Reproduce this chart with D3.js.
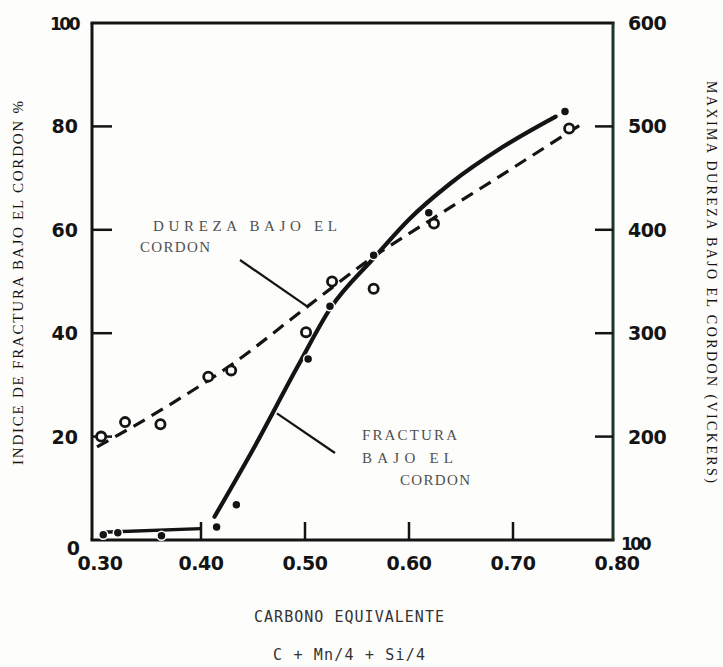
<!DOCTYPE html>
<html>
<head>
<meta charset="utf-8">
<script src="https://cdn.jsdelivr.net/npm/d3@7"></script>
<style>
  html, body { margin: 0; padding: 0; background: #fdfdfb; }
  svg { display: block; }
</style>
</head>
<body>
<svg id="chart" width="723" height="667"></svg>
<script>
// ---- data ----
const xTicks = [0.30, 0.40, 0.50, 0.60, 0.70, 0.80];
const xTickLabels = ["0.30", "0.40", "0.50", "0.60", "0.70", "0.80"];
const leftTicks = [0, 20, 40, 60, 80, 100];
const leftTickLabels = ["0", "20", "40", "60", "80", "100"];
const rightTicks = [100, 200, 300, 400, 500, 600];
const rightTickLabels = ["100", "200", "300", "400", "500", "600"];

// hardness (Vickers) measured points - open circles
const hardnessX = [0.304, 0.327, 0.361, 0.407, 0.429, 0.501, 0.526, 0.566, 0.624, 0.754];
const hardnessV = [200, 214, 212, 258, 264, 301, 350, 343, 406, 498];
// hardness fitted dashed curve
const hardnessFitX = [0.30, 0.367, 0.43, 0.50, 0.566, 0.62, 0.686, 0.764];
const hardnessFitV = [190, 229, 270, 324, 374, 409, 451, 501];

// fracture index (%) measured points - filled dots
const fractureX = [0.306, 0.320, 0.362, 0.415, 0.434, 0.503, 0.524, 0.566, 0.619, 0.750];
const fractureV = [1.0, 1.4, 0.8, 2.5, 6.8, 35, 45.2, 55.1, 63.3, 82.9];
// fracture fitted solid curves
const fractureLowX = [0.305, 0.40];
const fractureLowV = [1.5, 2.2];
const fractureFitX = [0.413, 0.45, 0.493, 0.525, 0.566, 0.60, 0.64, 0.69, 0.741];
const fractureFitV = [4.5, 17.5, 33.6, 45, 54.5, 62, 69, 76, 81.9];

// ---- layout ----
const svg = d3.select("#chart");
const ink = "#141414";
const x = d3.scaleLinear().domain([0.30, 0.80]).range([97, 617]);
const yL = d3.scaleLinear().domain([0, 100]).range([540, 23]);
const yR = d3.scaleLinear().domain([100, 600]).range([540, 23]);

const frameL = x(0.30) - 5, frameR = x(0.80) - 4;

// frame
svg.append("line").attr("x1", frameL).attr("x2", frameL).attr("y1", yL(100)).attr("y2", yL(0))
  .attr("stroke", ink).attr("stroke-width", 3);
svg.append("line").attr("x1", frameL - 1.5).attr("x2", frameR + 1.5).attr("y1", yL(100)).attr("y2", yL(100))
  .attr("stroke", ink).attr("stroke-width", 3);
svg.append("line").attr("x1", frameL - 1.5).attr("x2", frameR + 1.5).attr("y1", yL(0)).attr("y2", yL(0))
  .attr("stroke", ink).attr("stroke-width", 3);
svg.append("line").attr("x1", frameR).attr("x2", frameR).attr("y1", yL(100)).attr("y2", yL(0))
  .attr("stroke", "#1c3620").attr("stroke-width", 3);

const tickFont = "'DejaVu Sans', sans-serif";

// bottom ticks (inside, upward)
svg.append("g").selectAll("line").data(xTicks.slice(1, 5)).join("line")
  .attr("x1", d => x(d)).attr("x2", d => x(d))
  .attr("y1", yL(0)).attr("y2", yL(0) - 18)
  .attr("stroke", ink).attr("stroke-width", 2.5);
svg.append("g").selectAll("text").data(xTicks).join("text")
  .attr("x", (d, i) => x(d) + (i === 0 ? 3 : 0)).attr("y", 570)
  .attr("text-anchor", "middle")
  .attr("font-family", tickFont).attr("font-weight", "bold").attr("font-size", 19)
  .attr("letter-spacing", -0.5)
  .attr("fill", ink)
  .text((d, i) => xTickLabels[i]);

// left ticks
svg.append("g").selectAll("line").data(leftTicks.slice(1, 5)).join("line")
  .attr("x1", frameL).attr("x2", frameL + 20)
  .attr("y1", d => yL(d)).attr("y2", d => yL(d))
  .attr("stroke", ink).attr("stroke-width", 2.5);
svg.append("g").selectAll("text").data(leftTicks).join("text")
  .attr("x", d => d === 0 ? 80 : 78).attr("y", d => d === 0 ? yL(d) + 15 : yL(d) + 7)
  .attr("text-anchor", "end")
  .attr("font-family", tickFont).attr("font-weight", "bold")
  .attr("font-size", d => d === 100 ? 17 : 19)
  .attr("letter-spacing", d => d === 100 ? -2.5 : 0)
  .attr("fill", ink)
  .text((d, i) => leftTickLabels[i]);

// right ticks
svg.append("g").selectAll("line").data(rightTicks.slice(1, 5)).join("line")
  .attr("x1", frameR - 18).attr("x2", frameR)
  .attr("y1", d => yR(d)).attr("y2", d => yR(d))
  .attr("stroke", ink).attr("stroke-width", 2.5);
svg.append("g").selectAll("text").data(rightTicks).join("text")
  .attr("x", d => d === 100 ? frameR + 8 : frameR + 15)
  .attr("y", d => d === 100 ? yR(d) + 10 : yR(d) + 7)
  .attr("text-anchor", "start")
  .attr("font-family", tickFont).attr("font-weight", "bold")
  .attr("font-size", d => d === 100 ? 17 : 19)
  .attr("letter-spacing", d => d === 100 ? -2.5 : -0.5)
  .attr("fill", ink)
  .text((d, i) => rightTickLabels[i]);

// ---- curves ----
const line = (ys) => d3.line().x(d => x(d[0])).y(d => ys(d[1])).curve(d3.curveMonotoneX);

svg.append("path")
  .datum(hardnessFitX.map((v, i) => [v, hardnessFitV[i]]))
  .attr("d", line(yR))
  .attr("fill", "none").attr("stroke", ink).attr("stroke-width", 3.2)
  .attr("stroke-dasharray", "13 8");

svg.append("path")
  .datum(fractureLowX.map((v, i) => [v, fractureLowV[i]]))
  .attr("d", line(yL))
  .attr("fill", "none").attr("stroke", ink).attr("stroke-width", 3.5);

svg.append("path")
  .datum(fractureFitX.map((v, i) => [v, fractureFitV[i]]))
  .attr("d", line(yL))
  .attr("fill", "none").attr("stroke", ink).attr("stroke-width", 4.2)
  .attr("stroke-linecap", "round");

// ---- markers ----
svg.append("g").selectAll("circle").data(fractureX).join("circle")
  .attr("cx", d => x(d)).attr("cy", (d, i) => yL(fractureV[i]))
  .attr("r", 4.5).attr("fill", ink)
  .attr("stroke", "#fdfdfb").attr("stroke-width", 1.5);

svg.append("g").selectAll("circle").data(hardnessX).join("circle")
  .attr("cx", d => x(d)).attr("cy", (d, i) => yR(hardnessV[i]))
  .attr("r", 4.6).attr("fill", "#fdfdfb")
  .attr("stroke", ink).attr("stroke-width", 2.8);

// ---- annotation pointers ----
svg.append("line").attr("x1", 240).attr("y1", 260).attr("x2", x(0.502)).attr("y2", yR(324) - 2)
  .attr("stroke", ink).attr("stroke-width", 2.2);
svg.append("line").attr("x1", x(0.473)).attr("y1", yL(24.5)).attr("x2", 335).attr("y2", 453)
  .attr("stroke", ink).attr("stroke-width", 2.2);

// ---- annotation text (typewriter) ----
const tw = svg.append("g")
  .attr("font-family", "'Liberation Serif', 'Times New Roman', serif")
  .attr("font-size", 15).attr("fill", "#505050");
tw.append("text").attr("x", 153).attr("y", 231).attr("textLength", 184).attr("lengthAdjust", "spacing").text("DUREZA BAJO  EL");
tw.append("text").attr("x", 140).attr("y", 252).attr("textLength", 70).attr("lengthAdjust", "spacing").text("CORDON");
tw.append("text").attr("x", 362).attr("y", 440).attr("textLength", 95).attr("lengthAdjust", "spacing").text("FRACTURA");
tw.append("text").attr("x", 362).attr("y", 463).attr("textLength", 91).attr("lengthAdjust", "spacing").text("BAJO  EL");
tw.append("text").attr("x", 400).attr("y", 485).attr("textLength", 70).attr("lengthAdjust", "spacing").text("CORDON");

// ---- axis titles ----
svg.append("text")
  .attr("transform", "translate(23,283) rotate(-90)")
  .attr("text-anchor", "middle")
  .attr("font-family", "'Liberation Serif', serif").attr("font-size", 15)
  .attr("fill", ink)
  .attr("textLength", 364).attr("lengthAdjust", "spacing")
  .text("INDICE DE FRACTURA BAJO EL CORDON  %");

svg.append("text")
  .attr("transform", "translate(707,282) rotate(90)")
  .attr("text-anchor", "middle")
  .attr("font-family", "'Liberation Serif', serif").attr("font-size", 14)
  .attr("fill", ink)
  .attr("textLength", 402).attr("lengthAdjust", "spacing")
  .text("MAXIMA DUREZA BAJO EL CORDON   (VICKERS)");

const mono = svg.append("g")
  .attr("font-family", "'DejaVu Sans Mono', monospace")
  .attr("font-size", 15).attr("fill", "#333").attr("text-anchor", "middle");
mono.append("text").attr("x", 349).attr("y", 622)
  .attr("textLength", 190).attr("lengthAdjust", "spacing")
  .text("CARBONO EQUIVALENTE");
mono.append("text").attr("x", 349).attr("y", 660)
  .attr("textLength", 152).attr("lengthAdjust", "spacing")
  .text("C + Mn/4 + Si/4");
</script>
</body>
</html>
